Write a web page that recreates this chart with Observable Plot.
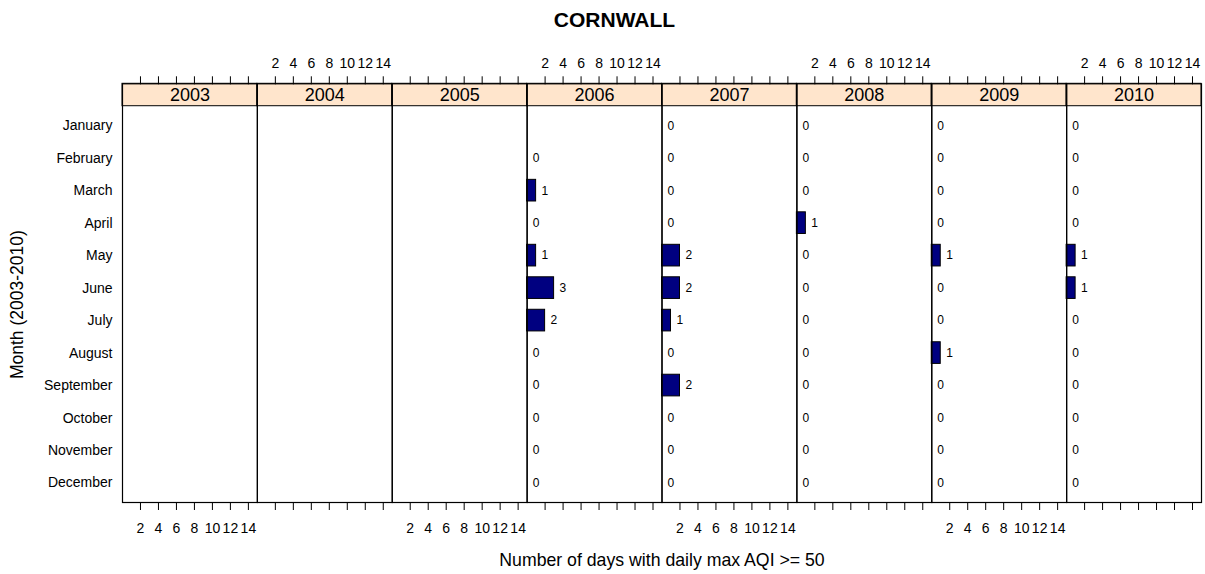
<!DOCTYPE html>
<html>
<head>
<meta charset="utf-8">
<script src="https://cdn.jsdelivr.net/npm/d3@7"></script>
<script src="https://cdn.jsdelivr.net/npm/@observablehq/plot@0.6"></script>
<style>
  html, body { margin: 0; padding: 0; background: #fff; }
  #chart svg { display: block; }
</style>
</head>
<body>
<div id="chart"></div>
<script>
// ---- data ----
const months = ["January","February","March","April","May","June","July","August","September","October","November","December"];
const years = [2003, 2004, 2005, 2006, 2007, 2008, 2009, 2010];
const count2003 = [null,null,null,null,null,null,null,null,null,null,null,null];
const count2004 = [null,null,null,null,null,null,null,null,null,null,null,null];
const count2005 = [null,null,null,null,null,null,null,null,null,null,null,null];
const count2006 = [null,0,1,0,1,3,2,0,0,0,0,0];
const count2007 = [0,0,0,0,2,2,1,0,2,0,0,0];
const count2008 = [0,0,0,1,0,0,0,0,0,0,0,0];
const count2009 = [0,0,0,0,1,0,0,1,0,0,0,0];
const count2010 = [0,0,0,0,1,1,0,0,0,0,0,0];
const xTicks = [2, 4, 6, 8, 10, 12, 14];
const topLabelYears = [2004, 2006, 2008, 2010];
const bottomLabelYears = [2003, 2005, 2007, 2009];
const title = "CORNWALL";
const xTitle = "Number of days with daily max AQI >= 50";
const yTitle = "Month (2003-2010)";

// ---- build table ----
const countsByYear = [count2003, count2004, count2005, count2006, count2007, count2008, count2009, count2010];
const rows = [];
years.forEach((yr, k) => {
  countsByYear[k].forEach((v, i) => {
    if (v != null) rows.push({year: yr, mi: i + 1, value: v});
  });
});
const monthIdx = months.map((m, i) => i + 1);
const topLabels = topLabelYears.flatMap(yr => xTicks.map(v => ({year: yr, v})));
const bottomLabels = bottomLabelYears.flatMap(yr => xTicks.map(v => ({year: yr, v})));

// scale limits (lattice-style padding)
const xMin = 0, xMax = 15;
const panelTop = 0.4, panelBottom = 12.6;
const stripTop = -0.29;
const half = 1 / 3; // box.ratio = 2

const font = "'Liberation Sans', Arial, Helvetica, sans-serif";

const chart = Plot.plot({
  width: 1205,
  height: 574,
  marginLeft: 122,
  marginRight: 4,
  marginTop: 83.3,
  marginBottom: 72,
  style: {fontFamily: font, background: "#fff", color: "#000"},
  fx: {domain: years, padding: 0, round: false, axis: null},
  x: {domain: [xMin, xMax], axis: null},
  y: {domain: [stripTop, panelBottom], reverse: true, axis: null},
  marks: [
    // strips
    Plot.rect(years, {fx: d => d, x1: xMin, x2: xMax, y1: stripTop, y2: panelTop,
      fill: "#FFE5CC", stroke: "#000", strokeWidth: 1}),
    Plot.text(years, {fx: d => d, x: (xMin + xMax) / 2, y: (stripTop + panelTop) / 2,
      text: d => String(d), fontSize: 18, fill: "#000"}),
    // bars
    Plot.rect(rows, {fx: "year", x1: xMin, x2: "value",
      y1: d => d.mi - half, y2: d => d.mi + half,
      fill: "#000080", stroke: "#000", strokeWidth: 1}),
    // value labels
    Plot.text(rows, {fx: "year", x: "value", y: "mi", text: d => String(d.value),
      textAnchor: "start", dx: 5.5, fontSize: 12, fill: "#000"}),
    // panel frames
    Plot.frame({stroke: "#000", strokeWidth: 1.2}),
    // x ticks top & bottom (labels drawn separately, alternating panels)
    Plot.axisX({anchor: "top", ticks: xTicks, tickSize: 8, tickFormat: () => "", label: null, stroke: "#000"}),
    Plot.axisX({anchor: "bottom", ticks: xTicks, tickSize: 8, tickFormat: () => "", label: null, stroke: "#000"}),
    Plot.text(topLabels, {fx: "year", x: "v", frameAnchor: "top", dy: -20.5, lineAnchor: "middle",
      text: d => String(d.v), fontSize: 14, fill: "#000"}),
    Plot.text(bottomLabels, {fx: "year", x: "v", frameAnchor: "bottom", dy: 26, lineAnchor: "middle",
      text: d => String(d.v), fontSize: 14, fill: "#000"}),
    // y axis (month names)
    Plot.axisY({ticks: monthIdx, tickFormat: i => months[i - 1], tickSize: 0,
      tickPadding: 10, fontSize: 14, label: null}),
    // titles
    Plot.text([yTitle], {fx: () => years[0], frameAnchor: "left", dx: -105, dy: 11.5,
      rotate: -90, textAnchor: "middle", lineAnchor: "middle",
      text: d => d, fontSize: 17.5, fill: "#000"}),
    Plot.text([xTitle], {fx: () => years[3], frameAnchor: "bottom-right", dy: 57.5,
      textAnchor: "middle", lineAnchor: "middle", text: d => d, fontSize: 17.7, fill: "#000"}),
    Plot.text([title], {fx: () => years[3], frameAnchor: "top-right", dy: -63.3, dx: -47.5,
      textAnchor: "middle", lineAnchor: "middle", text: d => d, fontSize: 21, fontWeight: "bold", fill: "#000"})
  ]
});
document.getElementById("chart").appendChild(chart);
</script>
</body>
</html>
